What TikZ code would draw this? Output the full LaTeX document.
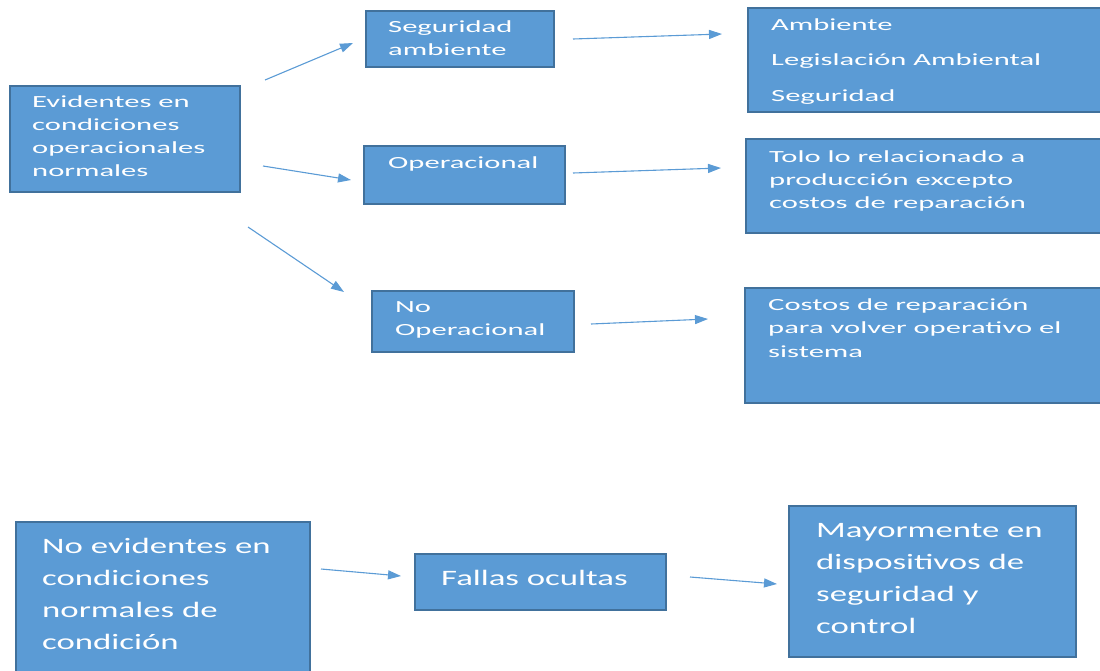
\documentclass[tikz,border=0pt]{standalone}
\usepackage{fontspec}
\usetikzlibrary{arrows.meta}
\newfontfamily\boxfont{Carlito}[FakeStretch=1.8]
\newfontfamily\bigboxfont{Carlito}[FakeStretch=1.58]
\definecolor{boxfill}{HTML}{5B9BD5}
\definecolor{boxline}{HTML}{41719C}
\definecolor{arrowcol}{HTML}{5B9BD5}
% stack of left-aligned lines whose baseline is the first line's baseline
\newcommand{\linestack}[1]{\vtop{\halign{##\hfil\cr#1\crcr}}}
\tikzset{
  box/.style={draw=boxline, line width=1.6pt, fill=boxfill, anchor=north west,
    inner sep=0pt, outer sep=0pt},
  boxtext/.style={anchor=base west, inner sep=0pt, text=white,
    font=\boxfont\fontsize{17}{23}\selectfont},
  bigtext/.style={anchor=base west, inner sep=0pt, text=white,
    font=\bigboxfont\fontsize{22}{32}\selectfont},
  arr/.style={draw=arrowcol, line width=1.1pt,
    -{Triangle[length=13pt,width=9pt]}}
}
\begin{document}
\begin{tikzpicture}[x=1pt,y=-1pt]
\useasboundingbox (0,0) rectangle (1100,670);
\clip (0,0) rectangle (1100,670);

% boxes
\node[box, minimum width=230pt, minimum height=106pt] (ev)   at (10,86)  {};
\node[box, minimum width=188pt, minimum height=56pt]  (seg)  at (366,11) {};
\node[box, minimum width=201pt, minimum height=58pt]  (op)   at (364,146) {};
\node[box, minimum width=202pt, minimum height=61pt]  (noop) at (372,291) {};
\node[box, minimum width=360pt, minimum height=104pt] (amb)  at (748,8)  {};
\node[box, minimum width=360pt, minimum height=94pt]  (tolo) at (746,139) {};
\node[box, minimum width=360pt, minimum height=115pt] (cos)  at (745,288) {};
\node[box, minimum width=294pt, minimum height=160pt] (noev) at (16,522) {};
\node[box, minimum width=251pt, minimum height=56pt]  (fal)  at (415,554) {};
\node[box, minimum width=287pt, minimum height=151pt] (may)  at (789,506) {};

% texts
\node[boxtext] (evt) at (32,107) {\linestack{Evidentes en\cr condiciones\cr operacionales\cr normales}};
\node[boxtext] (segt) at (388,32) {\linestack{Seguridad\cr ambiente}};
\node[boxtext] (opt) at (388,168) {Operacional};
\node[boxtext] (noopt) at (395,312) {\linestack{No\cr Operacional}};
\node[boxtext, font=\boxfont\fontsize{17}{35.5}\selectfont] (ambt) at (771,30)
  {\linestack{Ambiente\cr Legislación Ambiental\cr Seguridad}};
\node[boxtext] (tolot) at (769,162) {\linestack{Tolo lo relacionado a\cr producción excepto\cr costos de reparación}};
\node[boxtext, font=\boxfont\fontsize{17}{23.5}\selectfont] (cost) at (768,310)
  {\linestack{Costos de reparación\cr para volver operativo el\cr sistema}};
\node[bigtext] (noevt) at (42,553) {\linestack{No evidentes en\cr condiciones\cr normales de\cr condición}};
\node[bigtext] (falt) at (441,585) {Fallas ocultas};
\node[bigtext] (mayt) at (816,537) {\linestack{Mayormente en\cr dispositivos de\cr seguridad y\cr control}};

% connector ends
\coordinate (ev-a) at (265,80);   \coordinate (seg-a) at (353,43);
\coordinate (ev-b) at (263,166);  \coordinate (op-a)  at (351,180);
\coordinate (ev-c) at (248,227);  \coordinate (noop-a) at (344,292);
\coordinate (seg-b) at (573,39);  \coordinate (amb-a) at (722,34);
\coordinate (op-b) at (573,173);  \coordinate (tolo-a) at (721,168);
\coordinate (noop-b) at (591,324); \coordinate (cos-a) at (708,319);
\coordinate (noev-a) at (321,569); \coordinate (fal-a) at (401,576);
\coordinate (fal-b) at (690,577); \coordinate (may-a) at (777,584);

% connectors
\draw[arr] (ev-a) -- (seg-a);
\draw[arr] (ev-b) -- (op-a);
\draw[arr] (ev-c) -- (noop-a);
\draw[arr] (seg-b) -- (amb-a);
\draw[arr] (op-b) -- (tolo-a);
\draw[arr] (noop-b) -- (cos-a);
\draw[arr] (noev-a) -- (fal-a);
\draw[arr] (fal-b) -- (may-a);
\end{tikzpicture}
\end{document}
